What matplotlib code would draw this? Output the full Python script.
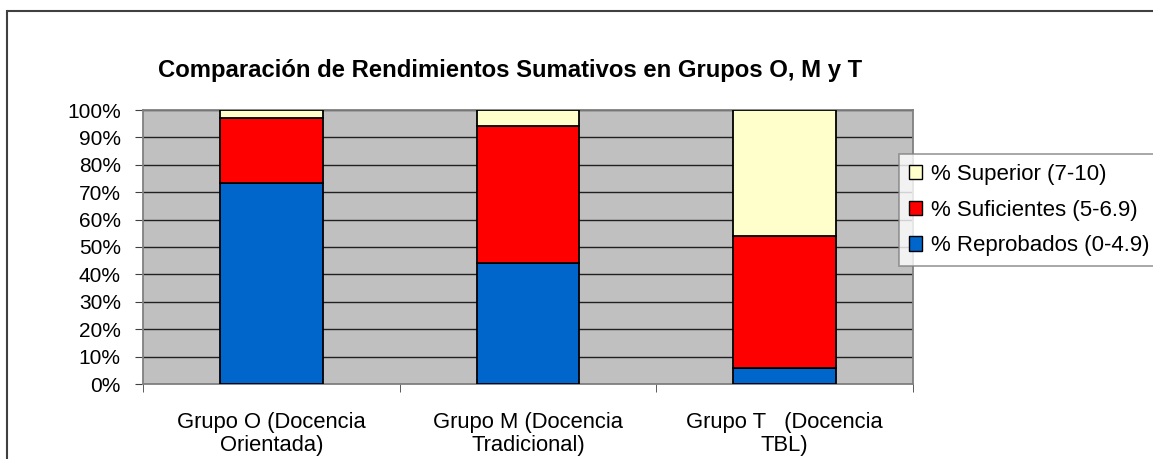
import numpy as np
import matplotlib
matplotlib.use("Agg")
import matplotlib.pyplot as plt
from matplotlib.patches import Rectangle, Patch
from matplotlib.ticker import FixedLocator, PercentFormatter

# datos (porcentaje de alumnos)
grupos = ["Grupo O (Docencia\nOrientada)", "Grupo M (Docencia\nTradicional)", "Grupo T   (Docencia\nTBL)"]
reprobados = [73.3, 44.0, 6.0]
suficientes = [23.7, 50.0, 48.0]
superior = [3.0, 6.0, 46.0]

series = ["% Reprobados (0-4.9)", "% Suficientes (5-6.9)", "% Superior (7-10)"]
colores = ["#0066CC", "#FF0000", "#FFFFCC"]

plt.rcParams["font.family"] = ["Liberation Sans", "DejaVu Sans"]

W, H = 1153, 459
fig = plt.figure(figsize=(W / 100, H / 100), dpi=100)

# marco exterior del grafico (cortado a la derecha y abajo)
fig.patches.append(Rectangle((7 / W, -0.1), 1.2, 1 - 11 / H + 0.1, transform=fig.transFigure,
                             fill=False, edgecolor="#404040", linewidth=1.5))

ax = fig.add_axes([143 / W, 1 - 384 / H, (913 - 143) / W, (384 - 110) / H])
ax.set_facecolor("#C0C0C0")

x = np.arange(len(grupos))
ancho = 0.4
abajo = np.zeros(len(grupos))
for vals, nombre, c in zip([reprobados, suficientes, superior], series, colores):
    ax.bar(x, vals, ancho, bottom=abajo, color=c, edgecolor="black", linewidth=1.3,
           label=nombre, zorder=3)
    abajo = abajo + np.array(vals)

ax.set_xlim(-0.5, len(grupos) - 0.5)
ax.set_ylim(0, 100)
ax.set_yticks(np.arange(0, 101, 10))
ax.yaxis.set_major_formatter(PercentFormatter(decimals=0))
ax.yaxis.grid(True, color="#202020", linewidth=1)
ax.set_axisbelow(True)

ax.set_xticks(x)
ax.set_xticklabels(grupos, fontsize=15.8, linespacing=1.15)
ax.xaxis.set_minor_locator(FixedLocator(np.arange(-0.5, len(grupos), 1.0)))
ax.tick_params(axis="x", which="major", length=0, pad=20)
ax.tick_params(axis="x", which="minor", length=6, color="#404040")
ax.tick_params(axis="y", length=6, color="#404040", labelsize=15, pad=10)

for s in ax.spines.values():
    s.set_color("#808080")
    s.set_linewidth(1.3)

fig.text(510 / W, 1 - 70 / H, "Comparación de Rendimientos Sumativos en Grupos O, M y T",
         ha="center", va="center", fontsize=17.2, fontweight="bold")

handles = [Patch(facecolor=c, edgecolor="black", linewidth=1) for c in colores][::-1]
leg = fig.legend(handles, series[::-1], loc="upper left",
                 bbox_to_anchor=(899 / W, 1 - 154 / H), bbox_transform=fig.transFigure,
                 borderaxespad=0, fontsize=16, frameon=True, fancybox=False,
                 handlelength=0.6, handleheight=0.6, handletextpad=0.4,
                 labelspacing=0.66, borderpad=0.45)
leg.get_frame().set_edgecolor("#808080")
leg.get_frame().set_linewidth(1.2)

fig.savefig("out.png", dpi=100)
